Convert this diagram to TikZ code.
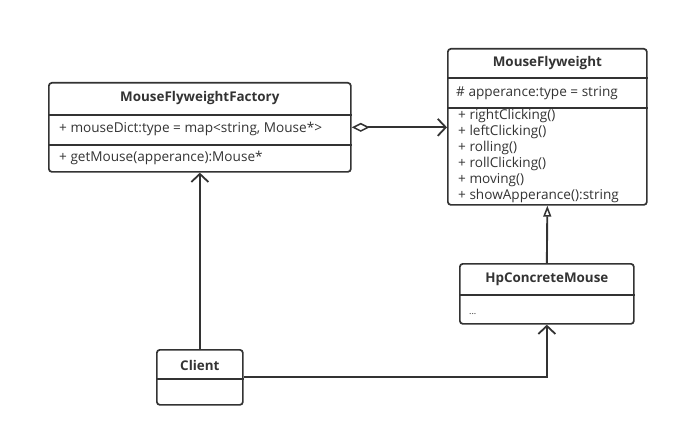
\documentclass[tikz,border=0pt]{standalone}
\usepackage{fontspec}
\setmainfont{Open Sans}
\usetikzlibrary{arrows.meta,positioning,calc}
\definecolor{umlInk}{HTML}{333333}

\begin{document}
\begin{tikzpicture}[x=1pt,y=1pt,
  cls/.style={draw=umlInk,line width=1.7pt,rounded corners=3pt,anchor=north west,inner sep=0pt},
  ttl/.style={font=\fontsize{13.4}{14}\selectfont\bfseries,text=umlInk,inner sep=0pt},
  mem/.style={font=\fontsize{13.6}{16}\selectfont,text=umlInk,anchor=west,inner sep=0pt,align=left},
  sepline/.style={draw=umlInk,line width=1.6pt},
  assoc/.style={draw=umlInk,line width=1.9pt,-{Straight Barb[length=8pt,width=17pt,line width=1.8pt]}},
  inherit/.style={draw=umlInk,line width=1.9pt,-{Triangle[open,length=11pt,width=8pt,line width=1.5pt]}},
  aggr/.style={draw=umlInk,line width=1.9pt,{Diamond[open,length=18pt,width=9pt,line width=1.5pt]}-{Straight Barb[length=8pt,width=17pt,line width=1.8pt]}}]
  \useasboundingbox (0,0) rectangle (678,-436);
  % class boxes
  \node[cls,minimum width=302pt,minimum height=89pt] (fac) at (48,-82) {};
  \node[cls,minimum width=199pt,minimum height=156pt] (fly) at (447,-48) {};
  \node[cls,minimum width=174pt,minimum height=60pt] (hp) at (459,-263) {};
  \node[cls,minimum width=86pt,minimum height=55pt] (cli) at (156,-349) {};
  % MouseFlyweightFactory
  \draw[sepline] ($(fac.north west)+(0,-33)$) -- ($(fac.north east)+(0,-33)$);
  \draw[sepline] ($(fac.north west)+(0,-63)$) -- ($(fac.north east)+(0,-63)$);
  \node[ttl] (facT) at ($(fac.north)+(0,-16)$) {MouseFlyweightFactory};
  \node[mem] (facA) at ($(fac.north west)+(11,-47)$) {+ mouseDict:type = map<string, Mouse*>};
  \node[mem] (facM) at ($(fac.north west)+(11,-76)$) {+ getMouse(apperance):Mouse*};
  % MouseFlyweight
  \draw[sepline] ($(fly.north west)+(0,-30)$) -- ($(fly.north east)+(0,-30)$);
  \draw[sepline] ($(fly.north west)+(0,-60)$) -- ($(fly.north east)+(0,-60)$);
  \node[ttl] (flyT) at ($(fly.north)+(0,-15)$) {MouseFlyweight};
  \node[mem] (flyA) at ($(fly.north west)+(9,-45)$) {\# apperance:type = string};
  \node[mem] (flyM) at ($(fly.north west)+(11,-108)$) {+ rightClicking()\\+ leftClicking()\\+ rolling()\\
    + rollClicking()\\+ moving()\\+ showApperance():string};
  % HpConcreteMouse
  \draw[sepline] ($(hp.north west)+(0,-32)$) -- ($(hp.north east)+(0,-32)$);
  \node[ttl] (hpT) at ($(hp.north)+(0,-16)$) {HpConcreteMouse};
  \node[mem,anchor=base west,font=\fontsize{9}{10}\selectfont] (hpA) at ($(hp.north west)+(10,-51)$) {...};
  % Client
  \draw[sepline] ($(cli.north west)+(0,-30)$) -- ($(cli.north east)+(0,-30)$);
  \node[ttl] (cliT) at ($(cli.north)+(0,-16)$) {Client};
  % relations
  \draw[aggr] (fac.east) -- (fly.west |- fac.east);
  \draw[inherit] (hp.north) -- (fly.south);
  \draw[assoc] (cli.north) -- (fac.south);
  \draw[assoc] (cli.east) -| (hp.south);
\end{tikzpicture}
\end{document}
